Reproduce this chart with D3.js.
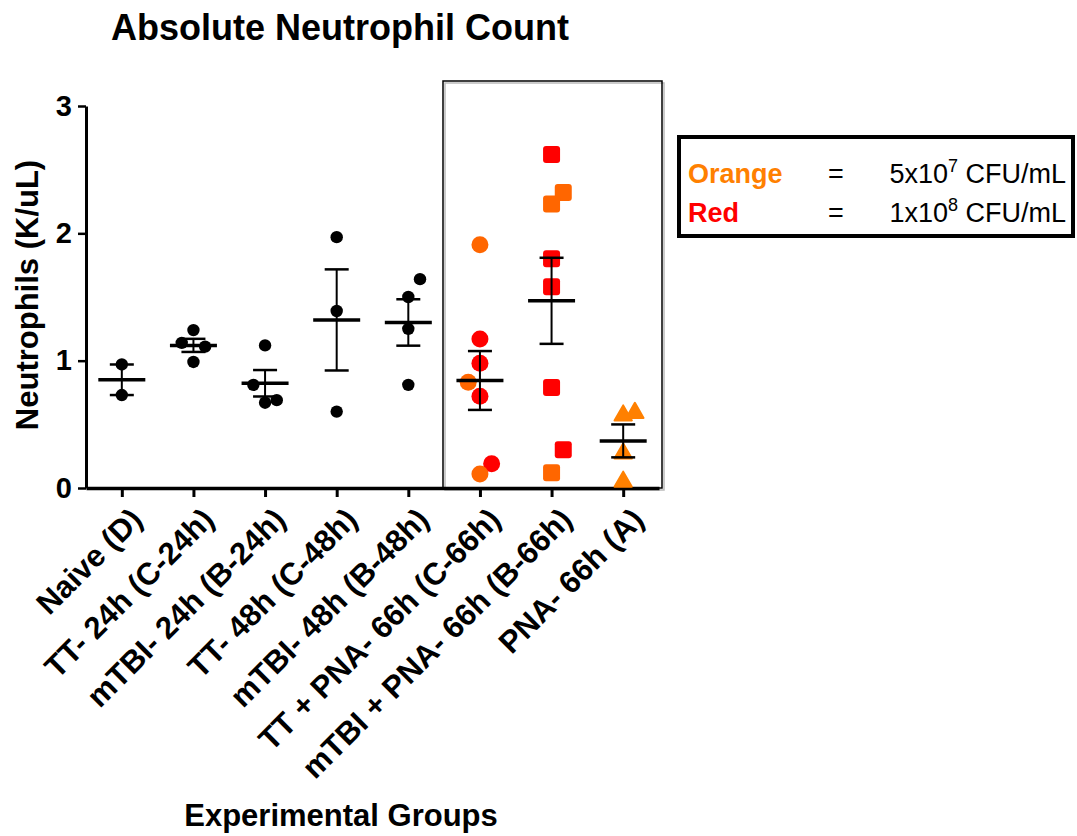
<!DOCTYPE html>
<meta charset="utf-8">
<html>
<script src="https://d3js.org/d3.v7.min.js"></script>
<style>
    body { margin: 0; background: #fff; }
    svg text { font-family: "Liberation Sans", Arial, sans-serif; }
</style>
<body>
<svg id="chart"></svg>
<script>
// ---------------- data ----------------
const groups = ["Naive (D)", "TT- 24h (C-24h)", "mTBI- 24h (B-24h)", "TT- 48h (C-48h)",
                "mTBI- 48h (B-48h)", "TT + PNA- 66h (C-66h)", "mTBI + PNA- 66h (B-66h)", "PNA- 66h (A)"];

// neutrophils K/uL, one list per group
const values = [
    [0.97, 0.73],
    [1.24, 1.14, 1.11, 0.99],
    [1.12, 0.81, 0.67, 0.69],
    [1.97, 1.39, 0.60],
    [1.64, 1.50, 1.25, 0.81],
    [1.91, 1.17, 0.98, 0.83, 0.72, 0.19, 0.11],
    [2.62, 2.32, 2.23, 1.80, 1.58, 0.79, 0.30, 0.12],
    [0.57, 0.59, 0.27, 0.05]
];
// side-by-side column of each dot (scatter spread)
const spread = [
    [0, 0],
    [0, -1, 1, 0],
    [0, -1, 0, 1],
    [0, 0, 0],
    [1, 0, 0, 0],
    [0, 0, 0, -1, 0, 1, 0],
    [0, 1, 0, 0, 0, 0, 1, 0],
    [0, 1, 0, 0]
];
// dose of each dot: k = none, o = 5x10^7, r = 1x10^8
const dose = [
    ["k", "k"],
    ["k", "k", "k", "k"],
    ["k", "k", "k", "k"],
    ["k", "k", "k"],
    ["k", "k", "k", "k"],
    ["o", "r", "r", "o", "r", "r", "o"],
    ["r", "o", "o", "r", "r", "r", "r", "o"],
    ["t", "t", "t", "t"]
];
const shapes = ["circle", "circle", "circle", "circle", "circle", "circle", "square", "triangle"];
const yTicks = [0, 1, 2, 3];

const colors = { k: "#000000", o: "#FF6600", r: "#FF0000", t: "#FF8000" };

// ---------------- layout ----------------
let width = 1077, height = 836;
let svg = d3.select("#chart").attr("width", width).attr("height", height);

let x = d3.scalePoint().domain(groups).range([86, 659]).padding(0.5);
let y = d3.scaleLinear().domain([0, 3]).range([488, 106]);
const colStep = 11.7;

// title
svg.append("text")
    .attr("x", 340).attr("y", 40)
    .attr("text-anchor", "middle")
    .style("font-size", "36px").style("font-weight", "bold")
    .text("Absolute Neutrophil Count");

// box around the pneumonia groups (with light shadow)
svg.append("rect").attr("x", 445).attr("y", 83).attr("width", 219).attr("height", 407)
    .attr("fill", "none").attr("stroke", "#bbb").attr("stroke-width", 1.5);
svg.append("rect").attr("x", 443).attr("y", 81).attr("width", 219).attr("height", 407)
    .attr("fill", "none").attr("stroke", "#000").attr("stroke-width", 1.5);

// axes
let yAxis = svg.append("g")
    .attr("transform", "translate(86,0)")
    .call(d3.axisLeft(y).tickValues(yTicks).tickFormat(d3.format("d")).tickSize(8).tickSizeOuter(0).tickPadding(6));
yAxis.select(".domain").attr("stroke-width", 3);
yAxis.selectAll(".tick line").attr("stroke-width", 2.5);
yAxis.selectAll(".tick text").style("font-size", "29px").style("font-weight", "bold").attr("fill", "#000");

let xAxis = svg.append("g")
    .attr("transform", "translate(0,488)")
    .call(d3.axisBottom(x).tickSize(9).tickSizeOuter(0).tickFormat(""));
xAxis.select(".domain").attr("stroke-width", 3.5);
xAxis.selectAll(".tick line").attr("stroke-width", 3);

// rotated group labels
svg.append("g").selectAll("text")
    .data(groups)
    .enter()
    .append("text")
        .attr("transform", d => `translate(${x(d) + 7},${506}) rotate(-45)`)
        .attr("text-anchor", "end")
        .attr("dy", "0.7em")
        .style("font-size", "31px").style("font-weight", "bold")
        .text(d => d);

// axis titles
svg.append("text")
    .attr("transform", "translate(38,295) rotate(-90)")
    .attr("text-anchor", "middle")
    .style("font-size", "31px").style("font-weight", "bold")
    .text("Neutrophils (K/uL)");

svg.append("text")
    .attr("x", 341).attr("y", 826)
    .attr("text-anchor", "middle")
    .style("font-size", "31px").style("font-weight", "bold")
    .text("Experimental Groups");

// points
let pts = [];
groups.forEach((g, i) => {
    values[i].forEach((v, j) => {
        pts.push({ g: g, v: v, col: spread[i][j], c: dose[i][j], shape: shapes[i] });
    });
});

let ptG = svg.append("g");
pts.forEach(p => {
    let cx = x(p.g) + p.col * colStep, cy = y(p.v);
    if (p.shape === "circle") {
        ptG.append("circle").attr("cx", cx).attr("cy", cy)
            .attr("r", p.c === "k" ? 6.2 : 8.5)
            .attr("fill", colors[p.c]);
    } else if (p.shape === "square") {
        ptG.append("rect").attr("x", cx - 8.5).attr("y", cy - 8.5)
            .attr("width", 17).attr("height", 17).attr("rx", 3)
            .attr("fill", colors[p.c]);
    } else {
        ptG.append("path")
            .attr("d", d3.symbol().type(d3.symbolTriangle).size(130)())
            .attr("transform", `translate(${cx},${cy})`)
            .attr("fill", colors[p.c]).attr("stroke", colors[p.c])
            .attr("stroke-width", 2).attr("stroke-linejoin", "round");
    }
});

// mean and SEM bars
let stats = groups.map((g, i) => {
    let m = d3.mean(values[i]);
    let sem = d3.deviation(values[i]) / Math.sqrt(values[i].length);
    return { g: g, m: m, sem: sem };
});

let barG = svg.append("g").attr("stroke", "#000");
stats.forEach(s => {
    let cx = x(s.g);
    barG.append("line").attr("x1", cx).attr("x2", cx)
        .attr("y1", y(s.m + s.sem)).attr("y2", y(s.m - s.sem)).attr("stroke-width", 2);
    [s.m + s.sem, s.m - s.sem].forEach(e => {
        barG.append("line").attr("x1", cx - 12).attr("x2", cx + 12)
            .attr("y1", y(e)).attr("y2", y(e)).attr("stroke-width", 2.5);
    });
    barG.append("line").attr("x1", cx - 23.5).attr("x2", cx + 23.5)
        .attr("y1", y(s.m)).attr("y2", y(s.m)).attr("stroke-width", 3.5);
});

// legend
let leg = svg.append("g");
leg.append("rect").attr("x", 679).attr("y", 137).attr("width", 394).attr("height", 99)
    .attr("fill", "none").attr("stroke", "#000").attr("stroke-width", 4);

const legRows = [
    { name: "Orange", col: "#FF8000", base: "5x10", exp: "7", y: 183 },
    { name: "Red", col: "#FF0000", base: "1x10", exp: "8", y: 222 }
];
legRows.forEach(r => {
    leg.append("text").attr("x", 688).attr("y", r.y)
        .style("font-size", "27px").style("font-weight", "bold")
        .attr("fill", r.col).text(r.name);
    leg.append("text").attr("x", 836).attr("y", r.y).attr("text-anchor", "middle")
        .style("font-size", "27px").text("=");
    let t = leg.append("text").attr("x", 1066).attr("y", r.y).attr("text-anchor", "end")
        .style("font-size", "27px");
    t.append("tspan").text(r.base);
    t.append("tspan").attr("dy", -11).style("font-size", "18px").text(r.exp);
    t.append("tspan").attr("dy", 11).text(" CFU/mL");
});
</script>
</body>
</html>
